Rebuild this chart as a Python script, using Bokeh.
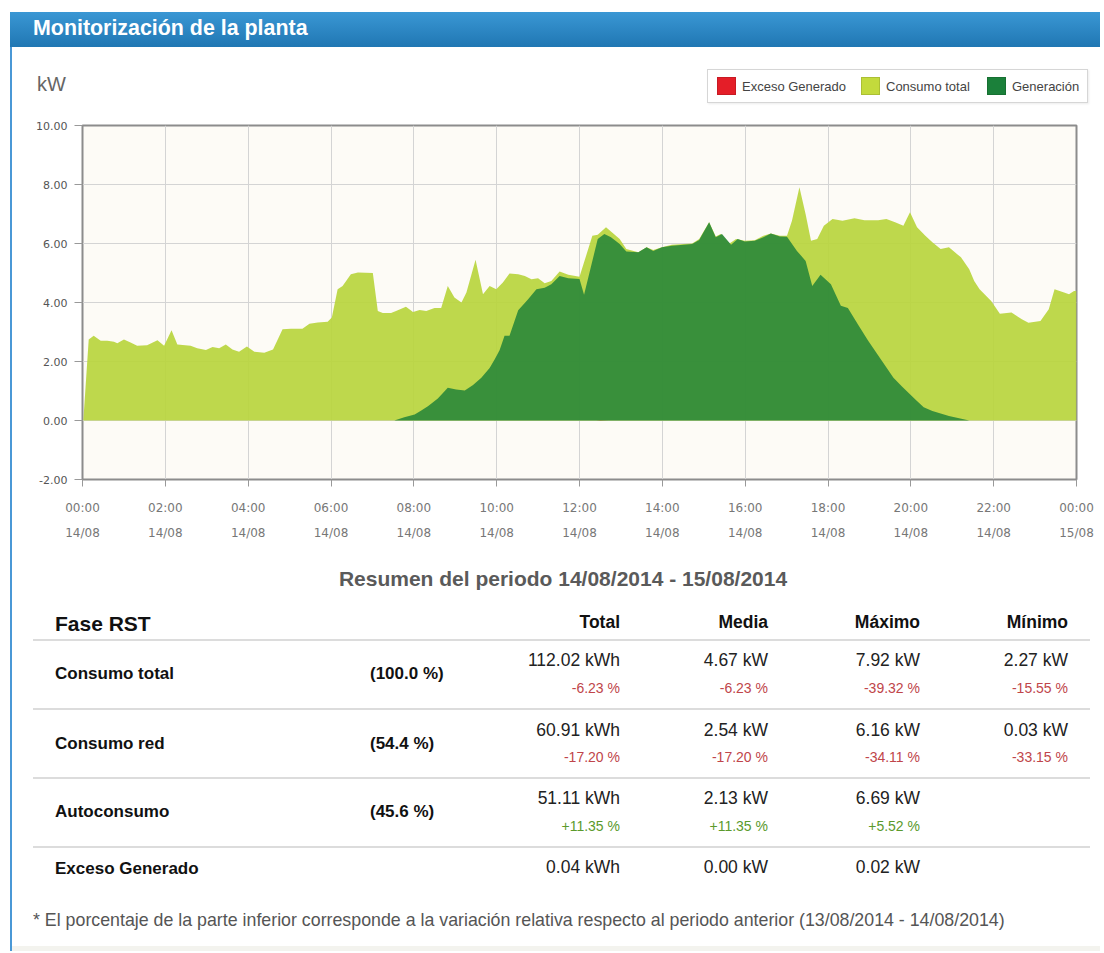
from bokeh.plotting import figure
from bokeh.models import (ColumnDataSource, Range1d, FixedTicker, NumeralTickFormatter,
                          LinearAxis, Div)
from bokeh.layouts import column, row
from bokeh.embed import file_html
from bokeh.resources import INLINE

# ---------------- data ----------------
cons_t = [0.02, 0.15, 0.27, 0.44, 0.60, 0.76, 0.84, 1.00, 1.16, 1.32, 1.56, 1.81, 1.97, 2.15, 2.29,
          2.61, 2.77, 2.98, 3.14, 3.30, 3.46, 3.62, 3.78, 3.97, 4.15, 4.39, 4.60, 4.70, 4.83, 5.03,
          5.31, 5.48, 5.68, 5.92, 6.02, 6.16, 6.28, 6.48, 6.65, 7.01, 7.13, 7.25, 7.45, 7.57, 7.81,
          7.98, 8.14, 8.30, 8.50, 8.66, 8.82, 8.98, 9.15, 9.27, 9.49, 9.67, 9.83, 9.99, 10.15, 10.31,
          10.52, 10.68, 10.84, 11.00, 11.16, 11.32, 11.52, 11.73, 12.00, 12.31, 12.44, 12.64, 12.76,
          12.97, 13.13, 13.42, 13.62, 13.78, 13.99, 14.23, 14.52, 14.72, 14.89, 15.13, 15.29, 15.41,
          15.62, 15.78, 15.99, 16.23, 16.44, 16.62, 16.84, 17.01, 17.13, 17.31, 17.46, 17.59, 17.74,
          17.90, 18.11, 18.35, 18.64, 18.88, 19.21, 19.41, 19.62, 19.82, 19.98, 20.15, 20.35, 20.52,
          20.72, 20.92, 21.21, 21.41, 21.53, 21.66, 21.94, 22.15, 22.43, 22.68, 22.84, 23.13, 23.33,
          23.47, 23.70, 23.82, 23.94, 24.00]
cons_v = [0.00, 2.75, 2.87, 2.70, 2.70, 2.67, 2.62, 2.75, 2.64, 2.53, 2.55, 2.72, 2.53, 3.06, 2.58,
          2.53, 2.45, 2.39, 2.49, 2.45, 2.58, 2.41, 2.33, 2.51, 2.33, 2.30, 2.41, 2.70, 3.09, 3.11,
          3.11, 3.28, 3.32, 3.35, 3.49, 4.45, 4.56, 4.96, 5.02, 5.00, 3.71, 3.64, 3.64, 3.71, 3.86,
          3.68, 3.75, 3.71, 3.81, 3.81, 4.56, 4.17, 4.00, 4.34, 5.45, 4.28, 4.56, 4.45, 4.68, 4.98,
          4.96, 4.90, 4.79, 4.82, 4.65, 4.73, 5.05, 4.94, 4.87, 6.26, 6.30, 6.55, 6.41,
          6.15, 5.81, 5.70, 5.87, 5.78, 5.87, 5.96, 5.98, 6.00, 6.15, 6.72, 6.24, 6.32,
          6.00, 6.15, 6.09, 6.11, 6.26, 6.34, 6.26, 6.26, 6.77, 7.91, 6.99, 6.09, 6.15,
          6.60, 6.83, 6.77, 6.86, 6.79, 6.79, 6.83, 6.72, 6.60, 7.06, 6.55, 6.26, 6.04,
          5.81, 5.87, 5.53, 5.13, 4.73, 4.45, 4.05, 3.62, 3.66, 3.43, 3.31, 3.37, 3.77,
          4.45, 4.34, 4.28, 4.39, 4.39]

gen_t = [7.53, 7.77, 8.02, 8.18, 8.34, 8.58, 8.82, 9.02, 9.23, 9.43, 9.63, 9.83, 9.95, 10.07, 10.19,
         10.31, 10.52, 10.76, 10.96, 11.16, 11.32, 11.52, 11.73, 12.00, 12.11, 12.27, 12.44, 12.60,
         12.76, 12.97, 13.13, 13.42, 13.62, 13.78, 13.99, 14.23, 14.52, 14.72, 14.89, 15.13, 15.29,
         15.44, 15.66, 15.82, 15.99, 16.23, 16.44, 16.62, 16.84, 17.01, 17.25, 17.46, 17.62, 17.82,
         18.07, 18.31, 18.48, 18.72, 18.97, 19.25, 19.58, 19.78, 20.11, 20.31, 20.52, 20.92, 21.41]
gen_v = [0.00, 0.11, 0.20, 0.34, 0.48, 0.75, 1.11, 1.05, 1.02, 1.20, 1.45, 1.78, 2.07, 2.38, 2.87,
         2.87, 3.74, 4.11, 4.45, 4.50, 4.62, 4.90, 4.82, 4.80, 4.26, 5.18, 6.15, 6.32,
         6.21, 5.98, 5.73, 5.70, 5.87, 5.75, 5.87, 5.92, 5.96, 5.98, 6.12, 6.72, 6.21,
         6.32, 5.96, 6.15, 6.07, 6.09, 6.21, 6.34, 6.24, 6.23, 5.75, 5.41, 4.56, 4.94,
         4.62, 3.89, 3.81, 3.26, 2.70, 2.13, 1.45, 1.16, 0.71, 0.45, 0.32, 0.15, 0.00]

exc_t = [12.40, 12.50, 12.60, 12.70]
exc_v = [0.00, 0.02, 0.01, 0.00]

tick_hours = [0, 2, 4, 6, 8, 10, 12, 14, 16, 18, 20, 22, 24]
time_labels = ["00:00", "02:00", "04:00", "06:00", "08:00", "10:00", "12:00",
               "14:00", "16:00", "18:00", "20:00", "22:00", "00:00"]
date_labels = ["14/08"] * 12 + ["15/08"]
y_ticks = [-2, 0, 2, 4, 6, 8, 10]
legend_labels = ["Exceso Generado", "Consumo total", "Generación"]
series_colors = ["#e41e28", "#b9d53e", "#2e8a3a"]
swatch_colors = ["#e41e28", "#c3da3c", "#1b803a"]

panel_title = "Monitorización de la planta"
unit_label = "kW"
summary_title = "Resumen del periodo 14/08/2014 - 15/08/2014"
table_head = ["Fase RST", "Total", "Media", "Máximo", "Mínimo"]
row_names = ["Consumo total", "Consumo red", "Autoconsumo", "Exceso Generado"]
row_shares = ["(100.0 %)", "(54.4 %)", "(45.6 %)", ""]
totals = ["112.02 kWh", "60.91 kWh", "51.11 kWh", "0.04 kWh"]
total_var = ["-6.23 %", "-17.20 %", "+11.35 %", ""]
medias = ["4.67 kW", "2.54 kW", "2.13 kW", "0.00 kW"]
media_var = ["-6.23 %", "-17.20 %", "+11.35 %", ""]
maximos = ["7.92 kW", "6.16 kW", "6.69 kW", "0.02 kW"]
max_var = ["-39.32 %", "-34.11 %", "+5.52 %", ""]
minimos = ["2.27 kW", "0.03 kW", "", ""]
min_var = ["-15.55 %", "-33.15 %", "", ""]
footnote = ("* El porcentaje de la parte inferior corresponde a la variación relativa "
            "respecto al periodo anterior (13/08/2014 - 14/08/2014)")

FONT = "'Liberation Sans', Arial, sans-serif"
BLUE_LINE = "#4a98d6"
W = 1100


def txt(text, cy, left=None, right=None, size=15, weight="normal", color="#222222", center=False):
    if center:
        pos = f"left:{left}px;transform:translate(-50%,-50%);"
    elif left is not None:
        pos = f"left:{left}px;transform:translateY(-50%);"
    else:
        pos = f"right:{right}px;transform:translateY(-50%);"
    return (f'<div style="position:absolute;{pos}top:{cy}px;font-size:{size}px;'
            f'font-weight:{weight};color:{color};white-space:nowrap;line-height:1;">{text}</div>')


def box(left, top, w, h, bg, extra=""):
    return (f'<div style="position:absolute;left:{left}px;top:{top}px;width:{w}px;height:{h}px;'
            f'background:{bg};{extra}"></div>')


# ---------------- header (title bar, unit, legend) ----------------
HH = 105
hp = [f'<div style="position:relative;width:{W}px;height:{HH}px;font-family:{FONT};">',
      box(10, 12, W - 10, 35, "linear-gradient(#3a97d4,#2077b3)"),
      txt(panel_title, 29, left=33, size=21.4, weight="bold", color="#ffffff"),
      box(10, 47, 2, HH - 47, BLUE_LINE),
      txt(unit_label, 84, left=37, size=20, color="#666666"),
      box(707, 69, 381, 34, "#ffffff",
          "box-sizing:border-box;border:1px solid #d6d6d6;box-shadow:1px 1px 2px rgba(0,0,0,0.08);")]
sw_left = [717, 861, 987]
for lab, col, sx in zip(legend_labels, swatch_colors, sw_left):
    hp.append(box(sx, 77, 19, 18, col, "box-sizing:border-box;border:1px solid rgba(0,0,0,0.12);"))
    hp.append(txt(lab, 86, left=sx + 25, size=13, color="#444444"))
hp.append('</div>')
header = Div(text="".join(hp), width=W, height=HH, margin=0)

# ---------------- chart ----------------
PH = 447
p = figure(width=W - 12, height=PH, x_range=Range1d(0, 24), y_range=Range1d(-2, 10),
           output_backend="svg", toolbar_location=None,
           min_border_left=70, min_border_right=W - 1076, min_border_top=20, min_border_bottom=73,
           background_fill_color="#fdfbf6", border_fill_color="white",
           outline_line_color="#8c8c8c", outline_line_width=2)

src_exc = ColumnDataSource(dict(t=exc_t, v=exc_v))
src_cons = ColumnDataSource(dict(t=cons_t, v=cons_v))
src_gen = ColumnDataSource(dict(t=gen_t, v=gen_v))

p.varea(x="t", y1=0, y2="v", source=src_exc, fill_color=series_colors[0], fill_alpha=1.0)
p.varea(x="t", y1=0, y2="v", source=src_cons, fill_color=series_colors[1], fill_alpha=0.93)
p.varea(x="t", y1=0, y2="v", source=src_gen, fill_color=series_colors[2], fill_alpha=0.93)

ax = p.xaxis[0]
ax.ticker = FixedTicker(ticks=tick_hours)
ax.major_label_overrides = {h: s for h, s in zip(tick_hours, time_labels)}
ax.major_label_text_font = "DejaVu Sans"
ax.major_label_text_font_size = "12px"
ax.major_label_text_color = "#777777"
ax.axis_line_color = "#8c8c8c"
ax.major_tick_line_color = "#999999"
ax.major_tick_in = 0
ax.major_tick_out = 7
ax.minor_tick_line_color = None
ax.major_label_standoff = 14

ax2 = LinearAxis(ticker=FixedTicker(ticks=tick_hours),
                 major_label_overrides={h: s for h, s in zip(tick_hours, date_labels)},
                 major_label_text_font="DejaVu Sans", major_label_text_font_size="12px",
                 major_label_text_color="#777777", axis_line_color=None,
                 major_tick_line_color=None, minor_tick_line_color=None,
                 major_tick_in=0, major_tick_out=0, major_label_standoff=8)
p.add_layout(ax2, "below")

ay = p.yaxis[0]
ay.ticker = FixedTicker(ticks=y_ticks)
ay.formatter = NumeralTickFormatter(format="0.00")
ay.major_label_text_font = "DejaVu Sans"
ay.major_label_text_font_size = "11px"
ay.major_label_text_color = "#555555"
ay.axis_line_color = "#8c8c8c"
ay.major_tick_line_color = "#999999"
ay.major_tick_in = 0
ay.major_tick_out = 8
ay.minor_tick_line_color = None
ay.major_label_standoff = 7

p.xgrid.grid_line_color = "#d4d4d4"
p.ygrid.grid_line_color = "#d4d4d4"

line_div = Div(text=f'<div style="position:relative;width:12px;height:{PH}px;">{box(10, 0, 2, PH, BLUE_LINE)}</div>',
               width=12, height=PH, margin=0)
chart_row = row(line_div, p)

# ---------------- table ----------------
def var_color(s):
    return "#c0454a" if s.startswith("-") else "#5b9a2c"

TH = 399
col_right = [W - 620, W - 768, W - 920, W - 1068]
parts = [f'<div style="position:relative;width:{W}px;height:{TH}px;font-family:{FONT};">',
         box(10, 0, 2, TH, BLUE_LINE),
         txt(summary_title, 26, left=563, size=21, weight="bold", color="#5a5a5a", center=True),
         txt(table_head[0], 71, left=55, size=21, weight="bold", color="#111111")]
for name, r in zip(table_head[1:], col_right):
    parts.append(txt(name, 71, right=r, size=17.5, weight="bold", color="#111111"))
for ly in [88, 157, 226, 295]:
    parts.append(box(33, ly - 1, 1057, 2, "#dcdcdc"))

label_cy = [121, 191, 259, 316]
value_cy = [109, 179, 247, 316]
var_cy = [136, 205, 274, 0]
for i in range(4):
    parts.append(txt(row_names[i], label_cy[i], left=55, size=17, weight="bold", color="#111111"))
    if row_shares[i]:
        parts.append(txt(row_shares[i], label_cy[i], left=370, size=17, weight="bold", color="#111111"))
    for vals, vars_, r in zip([totals, medias, maximos, minimos],
                              [total_var, media_var, max_var, min_var], col_right):
        if vals[i]:
            parts.append(txt(vals[i], value_cy[i], right=r, size=17.5, color="#222222"))
        if vars_[i]:
            parts.append(txt(vars_[i], var_cy[i], right=r, size=14, color=var_color(vars_[i])))
parts.append(txt(footnote, 369, left=33, size=17.8, color="#555555"))
parts.append(box(12, 394, W - 12, 5, "#f3f3ee"))
parts.append('</div>')
table = Div(text="".join(parts), width=W, height=TH, margin=0)

layout = column(header, chart_row, table)
open("out.html", "w").write(file_html(layout, INLINE))
